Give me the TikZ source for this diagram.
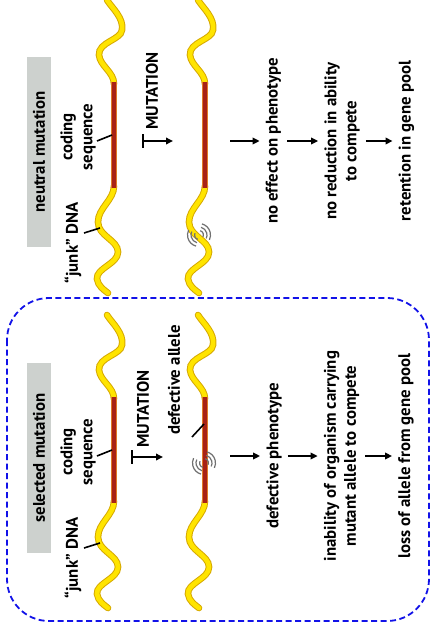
\documentclass[tikz,border=0pt]{standalone}
\usepackage{fontspec}
\setmainfont{PT Sans}
\usetikzlibrary{arrows.meta}

\definecolor{dnayellow}{HTML}{FFE400}
\definecolor{dnagold}{HTML}{D6A900}
\definecolor{codingred}{HTML}{A82216}
\definecolor{codingedge}{HTML}{E07A26}
\definecolor{labelgray}{HTML}{CDD1CE}
\definecolor{frameblue}{HTML}{1212E8}
\definecolor{ripplegray}{HTML}{707070}

\tikzset{
  % one DNA strand: wavy "junk" ends around a straight coding sequence
  pics/dna/.style={code={
    \draw[dnayellow, line width=4.6pt, line cap=round,
          preaction={draw=dnagold, line width=6.6pt, line cap=round}]
      (-7,0) .. controls (-2,8) and (10,18) .. (8,30)
             .. controls (7,40) and (-16,42) .. (-15,55)
             .. controls (-14,66) and (0,72) .. (0,84)
      (0,186) .. controls (0,200) and (-16,208) .. (-16,222)
             .. controls (-16,236) and (4,240) .. (4,252)
             .. controls (4,264) and (-18,268) .. (-17,279)
             .. controls (-16,286) and (-10,290) .. (-6,293);
    \draw[codingedge, line width=6pt] (0,82) -- (0,188);
    \draw[codingred, line width=4.4pt] (0,82) -- (0,188);
    \coordinate (-cs) at (-2,135);
    \coordinate (-jk) at (-14,228);
    \coordinate (-def) at (-1,109);
  }},
  % concentric arcs marking the site of a mutation
  pics/ripple/.style={code={
    \foreach \r in {4.5,8,11.5} {
      \draw[ripplegray, line width=1.2pt] (105:\r) arc[start angle=105, end angle=205, radius=\r];
      \draw[ripplegray, line width=1.2pt] (-75:\r) arc[start angle=-75, end angle=25, radius=\r];
    }
  }},
  lbl/.style={font=\fontsize{16.8}{20}\selectfont\bfseries, rotate=90, align=center, inner sep=1pt},
  flowtext/.style={lbl, inner xsep=1pt, inner ysep=6pt},
  graybox/.style={lbl, fill=labelgray, minimum width=190pt, minimum height=24pt},
  flow/.style={-{Triangle[length=7pt,width=6.5pt]}, line width=1.8pt},
  barline/.style={line width=1.8pt},
  leader/.style={line width=1.6pt},
}

\begin{document}
\begin{tikzpicture}[x=1pt,y=-1pt]
\useasboundingbox (0,0) rectangle (430,624);

% frame round the selected mutation
\draw[frameblue, line width=1.8pt, dash pattern=on 6pt off 3.5pt, rounded corners=42pt]
  (7,298) rectangle (429,621);

% ---------------- neutral mutation ----------------
\node[graybox] (nbox) at (39,152) {neutral mutation};
\pic (ns1) at (114,0) {dna};
\pic (ns2) at (205,0) {dna};
\pic at (199,235) {ripple};

\node[lbl] (ncs) at (78,137) {coding\\sequence};
\node[lbl] (njk) at (73,243) {“junk” DNA};
\coordinate (ncstail) at (97,141);
\coordinate (njktail) at (84,233);
\draw[leader] (ncstail) -- (ns1-cs);
\draw[leader] (njktail) -- (ns1-jk);

\node[lbl] (nmut) at (152,91) {MUTATION};
\coordinate (nbar1) at (143,134);
\coordinate (nbar2) at (143,148);
\coordinate (nmtail) at (143,141);
\coordinate (nmhead) at (173,141);
\draw[barline] (nbar1) -- (nbar2);
\draw[flow] (nmtail) -- (nmhead);

\node[flowtext] (nt1) at (273.5,141) {no effect on phenotype};
\node[flowtext] (nt2) at (342,141) {no reduction in ability\\to compete};
\node[flowtext] (nt3) at (406.5,141) {retention in gene pool};
\coordinate (nstart) at (230,141);
\draw[flow] (nstart) -- (nt1);
\draw[flow] (nt1) -- (nt2);
\draw[flow] (nt2) -- (nt3);

% ---------------- selected mutation ----------------
\node[graybox] (sbox) at (39,458) {selected mutation};
\pic (ss1) at (114,315) {dna};
\pic (ss2) at (205,315) {dna};
\pic at (204,463) {ripple};

\node[lbl] (scs) at (78,452) {coding\\sequence};
\node[lbl] (sjk) at (73,558) {“junk” DNA};
\coordinate (scstail) at (97,456);
\coordinate (sjktail) at (84,548);
\draw[leader] (scstail) -- (ss1-cs);
\draw[leader] (sjktail) -- (ss1-jk);

\node[lbl] (smut) at (143,409) {MUTATION};
\coordinate (sbar1) at (132,450);
\coordinate (sbar2) at (132,464);
\coordinate (smtail) at (132,457);
\coordinate (smhead) at (163,457);
\draw[barline] (sbar1) -- (sbar2);
\draw[flow] (smtail) -- (smhead);

\node[lbl] (sdef) at (174,380) {defective allele};
\coordinate (sdeftail) at (192,437);
\draw[leader] (sdeftail) -- (ss2-def);

\node[flowtext] (st1) at (274,456) {defective phenotype};
\node[flowtext] (st2) at (341.5,456) {inability of organism carrying\\mutant allele to compete};
\node[flowtext] (st3) at (406,456) {loss of allele from gene pool};
\coordinate (sstart) at (230,456);
\draw[flow] (sstart) -- (st1);
\draw[flow] (st1) -- (st2);
\draw[flow] (st2) -- (st3);
\end{tikzpicture}
\end{document}
